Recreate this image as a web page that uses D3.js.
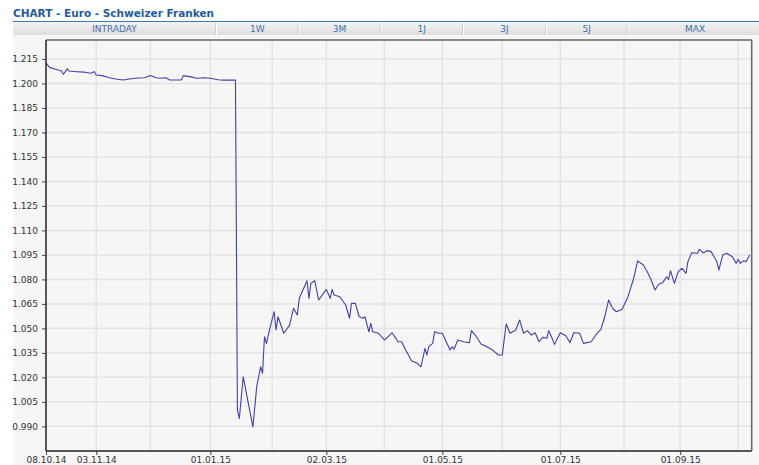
<!DOCTYPE html>
<meta charset="utf-8">
<style>
body{ margin:0; background:#fff; }
text{ font-family:"DejaVu Sans", Verdana, sans-serif; }
.title{ font-size:10.5px; font-weight:bold; fill:#245b9a; }
.tab{ font-size:9px; fill:#3f6fa8; text-anchor:middle; }
.axis text{ font-size:9px; fill:#333; }
.grid line{ stroke:#e3e3e3; stroke-width:1.5px; }
</style>
<body>
<div id="chart"></div>
<script src="https://d3js.org/d3.v7.min.js"></script>
<script>
var tabs = ["INTRADAY","1W","3M","1J","3J","5J","MAX"];
var yTicks = [0.990,1.005,1.020,1.035,1.050,1.065,1.080,1.095,1.110,1.125,1.140,1.155,1.170,1.185,1.200,1.215];
var xLabels = ["2014-10-08","2014-11-03","2015-01-01","2015-03-02","2015-05-01","2015-07-01","2015-09-01"];
var xGrid = ["2014-11-03","2014-12-01","2015-01-01","2015-02-02","2015-03-02","2015-04-01","2015-05-01","2015-06-01","2015-07-01","2015-08-03","2015-09-01","2015-10-01"];

var dates = [
 "2014-10-08","2014-10-10","2014-10-13","2014-10-16","2014-10-17","2014-10-18","2014-10-19","2014-10-20","2014-10-24","2014-10-28",
 "2014-10-31","2014-11-02","2014-11-03","2014-11-06","2014-11-10","2014-11-13","2014-11-17","2014-11-20","2014-11-23","2014-11-28",
 "2014-12-01","2014-12-04","2014-12-06","2014-12-09","2014-12-11","2014-12-17","2014-12-18","2014-12-22","2014-12-25","2014-12-29",
 "2015-01-01","2015-01-05","2015-01-08","2015-01-14","2015-01-15","2015-01-16","2015-01-18","2015-01-23","2015-01-25","2015-01-27",
 "2015-01-28","2015-01-29","2015-01-30","2015-02-01","2015-02-03","2015-02-04","2015-02-05","2015-02-08","2015-02-11","2015-02-13",
 "2015-02-15","2015-02-16","2015-02-20","2015-02-21","2015-02-22","2015-02-24","2015-02-26","2015-03-02","2015-03-04","2015-03-05",
 "2015-03-06","2015-03-09","2015-03-12","2015-03-14","2015-03-15","2015-03-17","2015-03-19","2015-03-21","2015-03-22","2015-03-24",
 "2015-03-25","2015-03-26","2015-03-29","2015-04-01","2015-04-03","2015-04-05","2015-04-07","2015-04-08","2015-04-10","2015-04-12",
 "2015-04-13","2015-04-15","2015-04-18","2015-04-20","2015-04-22","2015-04-23","2015-04-24","2015-04-26","2015-04-27","2015-04-29",
 "2015-05-01","2015-05-03","2015-05-05","2015-05-06","2015-05-07","2015-05-09","2015-05-12","2015-05-15","2015-05-16","2015-05-18",
 "2015-05-21","2015-05-24","2015-05-27","2015-05-30","2015-06-01","2015-06-03","2015-06-05","2015-06-08","2015-06-10","2015-06-12",
 "2015-06-14","2015-06-16","2015-06-18","2015-06-20","2015-06-22","2015-06-24","2015-06-25","2015-06-27","2015-06-28","2015-07-01",
 "2015-07-04","2015-07-06","2015-07-08","2015-07-11","2015-07-13","2015-07-17","2015-07-20","2015-07-22","2015-07-24","2015-07-26",
 "2015-07-28","2015-07-30","2015-08-02","2015-08-05","2015-08-08","2015-08-10","2015-08-13","2015-08-15","2015-08-17","2015-08-19",
 "2015-08-21","2015-08-23","2015-08-25","2015-08-26","2015-08-27","2015-08-29","2015-08-31","2015-09-02","2015-09-04","2015-09-05",
 "2015-09-07","2015-09-10","2015-09-11","2015-09-13","2015-09-15","2015-09-17","2015-09-20","2015-09-21","2015-09-23","2015-09-25",
 "2015-09-28","2015-09-30","2015-10-01","2015-10-02","2015-10-04","2015-10-05","2015-10-07"
];
var rates = [
 1.2124,1.2097,1.2087,1.2076,1.2056,1.2072,1.2089,1.2076,1.2072,1.2069,
 1.2062,1.2072,1.2052,1.2048,1.2035,1.2027,1.2021,1.2027,1.2032,1.2035,
 1.2048,1.2035,1.2032,1.2035,1.2021,1.2021,1.2048,1.2040,1.2032,1.2035,
 1.2032,1.2023,1.2020,1.2020,1.0000,0.9949,1.0204,0.9897,1.0143,1.0265,
 1.0225,1.0449,1.0408,1.0510,1.0602,1.0490,1.0571,1.0470,1.0520,1.0623,
 1.0582,1.0684,1.0792,1.0684,1.0776,1.0792,1.0674,1.0739,1.0684,1.0739,
 1.0704,1.0694,1.0643,1.0562,1.0653,1.0653,1.0571,1.0562,1.0571,1.0479,
 1.0531,1.0479,1.0470,1.0429,1.0449,1.0473,1.0439,1.0418,1.0418,1.0367,
 1.0347,1.0302,1.0286,1.0265,1.0378,1.0337,1.0388,1.0408,1.0479,1.0470,
 1.0470,1.0418,1.0367,1.0388,1.0372,1.0429,1.0418,1.0412,1.0486,1.0459,
 1.0404,1.0388,1.0367,1.0337,1.0337,1.0527,1.0470,1.0490,1.0551,1.0470,
 1.0486,1.0459,1.0473,1.0418,1.0445,1.0439,1.0486,1.0433,1.0402,1.0473,
 1.0453,1.0412,1.0473,1.0470,1.0408,1.0418,1.0470,1.0494,1.0571,1.0674,
 1.0623,1.0602,1.0617,1.0694,1.0807,1.0913,1.0888,1.0847,1.0796,1.0735,
 1.0772,1.0780,1.0816,1.0800,1.0853,1.0776,1.0847,1.0868,1.0837,1.0908,
 1.0963,1.0960,1.0984,1.0963,1.0976,1.0970,1.0908,1.0857,1.0949,1.0960,
 1.0939,1.0898,1.0923,1.0898,1.0914,1.0908,1.0949
];

var W = 759, H = 465;
var pl = 46, pt = 40, pr = 751.7, pb = 451;
var parse = d3.timeParse("%Y-%m-%d");
var fmt = d3.timeFormat("%d.%m.%y");

var svg = d3.select("#chart").append("svg").attr("width", W).attr("height", H);

// title + tab bar
svg.append("text").attr("class","title").attr("x",13).attr("y",17).text("CHART - Euro - Schweizer Franken");

var grad = svg.append("defs").append("linearGradient").attr("id","tabg").attr("x1",0).attr("x2",0).attr("y1",0).attr("y2",1);
grad.append("stop").attr("offset","0%").attr("stop-color","#f3f3f3");
grad.append("stop").attr("offset","100%").attr("stop-color","#dedede");

svg.append("rect").attr("x",13).attr("y",35).attr("width",W-13).attr("height",H-35).attr("fill","#f6f6f6");
svg.append("rect").attr("x",13).attr("y",22).attr("width",W-13).attr("height",13).attr("fill","url(#tabg)");
svg.append("line").attr("x1",13).attr("x2",W).attr("y1",21.5).attr("y2",21.5).attr("stroke","#3b78c0").attr("stroke-width",1.2);

var tabW = [203, 82.5, 82, 82.5, 83, 81.5, 135];
var tx = 13;
tabs.forEach(function(t, i){
    if(i > 0){
        svg.append("line").attr("x1",tx+0.5).attr("x2",tx+0.5).attr("y1",23).attr("y2",35).attr("stroke","#fff").attr("stroke-width",1);
        svg.append("line").attr("x1",tx-0.5).attr("x2",tx-0.5).attr("y1",23).attr("y2",35).attr("stroke","#cfcfcf").attr("stroke-width",1);
    }
    svg.append("text").attr("class","tab").attr("x",tx + tabW[i]/2).attr("y",31.5).text(t);
    tx += tabW[i];
});

// scales
var x = d3.scaleTime().domain([parse("2014-10-08"), parse("2015-10-08")]).range([pl, pr]);
var y = d3.scaleLinear().domain([0.9749, 1.2266]).range([pb, pt]);

// grid
var grid = svg.append("g").attr("class","grid");
grid.selectAll(".h").data(yTicks).enter().append("line")
    .attr("x1",pl).attr("x2",pr).attr("y1",d=>y(d)).attr("y2",d=>y(d));
grid.selectAll(".v").data(xGrid).enter().append("line")
    .attr("x1",d=>x(parse(d))).attr("x2",d=>x(parse(d))).attr("y1",pt).attr("y2",pb);

// line
var data = dates.map(function(d, i){ return {date: parse(d), value: rates[i]}; });
var line = d3.line().x(d=>x(d.date)).y(d=>y(d.value));
svg.append("path").datum(data).attr("d", line)
    .attr("fill","none").attr("stroke","#4141a8").attr("stroke-width",1.1).attr("stroke-linejoin","round");

// frame
svg.append("line").attr("x1",pl).attr("x2",pr).attr("y1",pt).attr("y2",pt).attr("stroke","#666").attr("stroke-width",1.5);
svg.append("line").attr("x1",pr).attr("x2",pr).attr("y1",pt).attr("y2",pb).attr("stroke","#666").attr("stroke-width",1.5);

// axes
var yAxis = d3.axisLeft(y).tickValues(yTicks).tickSize(4).tickPadding(4).tickFormat(d3.format(".3f"));
var gy = svg.append("g").attr("class","axis").attr("transform","translate("+pl+",0)").call(yAxis);
var xAxis = d3.axisBottom(x).tickValues(xLabels.map(parse)).tickSize(4).tickPadding(2).tickFormat(fmt);
var gx = svg.append("g").attr("class","axis").attr("transform","translate(0,"+pb+")").call(xAxis);
[gy, gx].forEach(function(g){
    g.select(".domain").attr("stroke","#222").attr("stroke-width",1.5);
    g.selectAll(".tick line").attr("stroke","#444");
});
gy.select(".domain").attr("d","M0,"+pt+"V"+pb);
gx.select(".domain").attr("d","M"+pl+",0H"+pr);
</script>
</body>
</html>
